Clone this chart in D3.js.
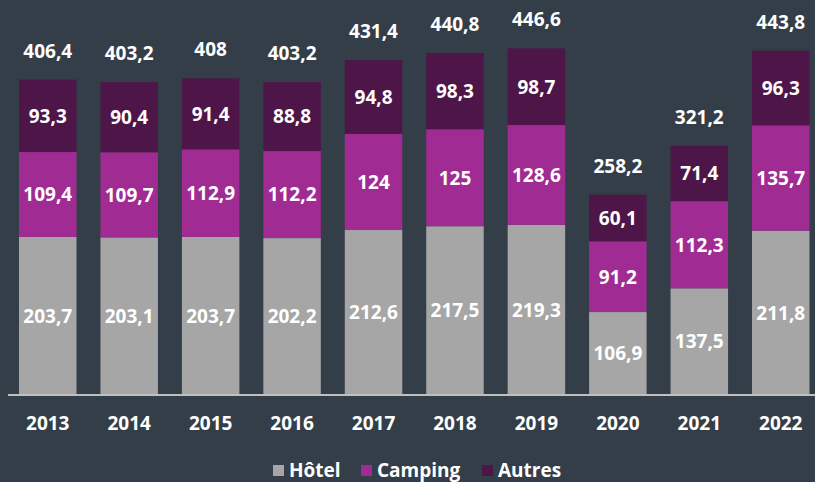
<!DOCTYPE html>
<html><head><meta charset="utf-8">
<script src="https://cdn.jsdelivr.net/npm/d3@7"></script>
<style>
html,body{margin:0;padding:0;background:#343e48;}
svg{display:block;}
text{font-family:"Open Sans",sans-serif;font-weight:700;fill:#ffffff;}
</style></head>
<body>
<script>
const years = ["2013","2014","2015","2016","2017","2018","2019","2020","2021","2022"];
const hotel = [203.7,203.1,203.7,202.2,212.6,217.5,219.3,106.9,137.5,211.8];
const camping = [109.4,109.7,112.9,112.2,124,125,128.6,91.2,112.3,135.7];
const autres = [93.3,90.4,91.4,88.8,94.8,98.3,98.7,60.1,71.4,96.3];
const totals = [406.4,403.2,408,403.2,431.4,440.8,446.6,258.2,321.2,443.8];
const seriesNames = ["Hôtel","Camping","Autres"];
const colors = ["#a6a6a6","#a02b93","#4e1548"];

const W = 815, H = 482;
const svg = d3.select("body").append("svg").attr("width",W).attr("height",H);

const x = d3.scaleBand().domain(years).range([19,809.5]).paddingInner(0.294).paddingOuter(0);
const y = d3.scaleLinear().domain([0,500]).range([395,7]);

const rows = years.map((yr,i)=>({year:yr,"Hôtel":hotel[i],"Camping":camping[i],"Autres":autres[i]}));
const stack = d3.stack().keys(seriesNames)(rows);
const fmt = v => String(v).replace(".",",");
const FS = 19;

const g = svg.append("g");
stack.forEach((s,si)=>{
  const layer = g.append("g").attr("fill",colors[si]);
  layer.selectAll("rect").data(s).join("rect")
    .attr("x",d=>x(d.data.year))
    .attr("y",d=>y(d[1]))
    .attr("width",x.bandwidth())
    .attr("height",d=>y(d[0])-y(d[1]));
  g.append("g").selectAll("text").data(s).join("text")
    .attr("x",d=>x(d.data.year)+x.bandwidth()/2)
    .attr("y",d=>(y(d[0])+y(d[1]))/2)
    .attr("dy","0.36em")
    .attr("text-anchor","middle")
    .attr("font-size",FS)
    .text(d=>fmt(d.data[seriesNames[si]]));
});

// totals
g.append("g").selectAll("text").data(years).join("text")
  .attr("x",d=>x(d)+x.bandwidth()/2)
  .attr("y",(d,i)=>y(totals[i])-22)
  .attr("text-anchor","middle")
  .attr("font-size",FS)
  .text((d,i)=>fmt(totals[i]));

// axis
const axis = d3.axisBottom(x).tickSize(0).tickPadding(22);
const ax = svg.append("g").attr("transform","translate(0,395)").call(axis);
ax.select(".domain").remove();
ax.selectAll("text").attr("font-size",FS).attr("fill","#ffffff").attr("font-family","Open Sans").attr("font-weight",700);
svg.append("line").attr("x1",8).attr("x2",815).attr("y1",395).attr("y2",395)
  .attr("stroke","#bfbfbf").attr("stroke-width",2);

// legend
const legendX = [273,361,482];
const lg = svg.append("g");
seriesNames.forEach((n,i)=>{
  lg.append("rect").attr("x",legendX[i]).attr("y",465).attr("width",11).attr("height",11).attr("fill",colors[i]);
  lg.append("text").attr("x",legendX[i]+16).attr("y",477).attr("font-size",FS).text(n);
});
</script>
</body></html>
